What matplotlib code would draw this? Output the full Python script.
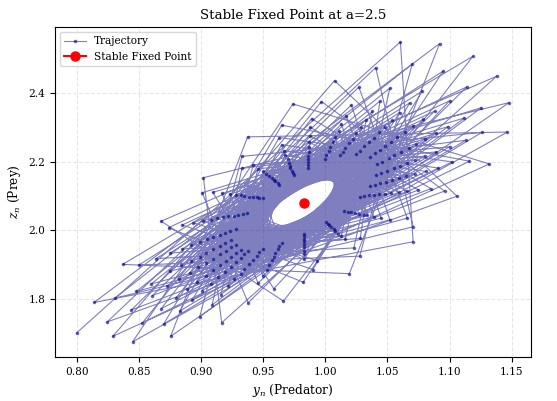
import matplotlib
matplotlib.use("Agg")
import matplotlib.pyplot as plt

plt.rcParams['font.family'] = ['DejaVu Serif']
plt.rcParams['mathtext.fontset'] = 'dejavuserif'

# Trajectory values (y = predator, z = prey)
y_traj = [
    0.800, 1.0605, 1.0707, 0.814, 1.092, 1.0194, 0.837, 1.1188, 0.9664, 0.868, 1.138, 0.9167,
    0.902, 1.148, 0.8756, 0.9376, 1.1465, 0.845, 0.974, 1.132, 0.829, 1.0075, 1.106,
    0.8245, 1.0406, 1.0707, 0.831, 1.070, 1.0277, 0.850, 1.095, 0.9823, 0.874, 1.114, 0.938,
    0.901, 1.1256, 0.899, 0.933, 1.126, 0.870, 0.965, 1.116, 0.853, 0.997, 1.096,
    0.844, 1.027, 1.066, 0.848, 1.052, 1.023, 0.864, 1.078, 0.990, 0.885, 1.100, 0.9586,
    0.9095, 1.112, 0.909, 0.933, 1.113, 0.883, 0.963, 1.102, 0.868, 0.989, 1.085,
    0.861, 1.021, 1.052, 0.860, 1.044, 1.0282, 0.875, 1.068, 0.9933, 0.894, 1.088, 0.946,
    0.917, 1.099, 0.916, 0.942, 1.100, 0.893, 0.965, 1.091, 0.880, 0.988, 1.075,
    0.873, 1.017, 1.045, 0.875, 1.038, 1.016, 0.885, 1.060, 0.983, 0.902, 1.079, 0.950,
    0.923, 1.089, 0.922, 0.946, 1.089, 0.901, 0.967, 1.081, 0.889, 0.988, 1.066,
    0.882, 1.013, 1.039, 0.884, 1.033, 1.013, 0.892, 1.054, 0.983, 0.908, 1.071, 0.953,
    0.928, 1.080, 0.927, 0.950, 1.080, 0.908, 0.968, 1.072, 0.897, 0.987, 1.059,
    0.891, 1.011, 1.034, 0.892, 1.029, 1.010, 0.899, 1.048, 0.983, 0.913, 1.064, 0.955,
    0.932, 1.073, 0.932, 0.952, 1.072, 0.914, 0.970, 1.065, 0.904, 0.987, 1.053,
    0.898, 1.008, 1.031, 0.899, 1.025, 1.008, 0.905, 1.043, 0.983, 0.918, 1.058, 0.957,
    0.935, 1.067, 0.935, 0.955, 1.066, 0.919, 0.971, 1.059, 0.910, 0.987, 1.048,
    0.904, 1.006, 1.027, 0.904, 1.022, 1.007, 0.910, 1.039, 0.983, 0.922, 1.053, 0.959,
    0.939, 1.061, 0.939, 0.957, 1.060, 0.924, 0.972, 1.054, 0.915, 0.986, 1.043,
    0.910, 1.004, 1.024, 0.910, 1.019, 1.005, 0.915, 1.035, 0.983, 0.927, 1.048, 0.960,
    0.942, 1.055, 0.942, 0.959, 1.055, 0.928, 0.972, 1.049, 0.920, 0.986, 1.039,
    0.915, 1.003, 1.021, 0.915, 1.016, 1.003, 0.919, 1.031, 0.983, 0.930, 1.044, 0.962,
    0.945, 1.051, 0.945, 0.960, 1.050, 0.932, 0.973, 1.044, 0.924, 0.986, 1.035,
    0.920, 1.001, 1.018, 0.919, 1.014, 1.002, 0.923, 1.028, 0.983, 0.934, 1.040, 0.963,
    0.947, 1.046, 0.947, 0.962, 1.045, 0.935, 0.974, 1.040, 0.928, 0.986, 1.031,
    0.924, 1.000, 1.015, 0.924, 1.012, 1.001, 0.928, 1.025, 0.983, 0.937, 1.036, 0.965,
    0.950, 1.042, 0.950, 0.963, 1.041, 0.938, 0.975, 1.036, 0.932, 0.986, 1.028,
    0.928,
]
z_traj = [
    1.700, 2.549, 1.966, 1.789, 2.544, 1.873, 1.900, 2.507, 1.793, 2.026, 2.449, 1.730,
    2.153, 2.372, 1.690, 2.272, 2.286, 1.674, 2.368, 2.193, 1.690, 2.436, 2.099,
    1.732, 2.474, 2.0096, 1.802, 2.484, 1.924, 1.898, 2.464, 1.848, 2.007, 2.418, 1.788,
    2.109, 2.357, 1.747, 2.215, 2.285, 1.726, 2.306, 2.201, 1.730, 2.375, 2.114,
    1.767, 2.417, 2.035, 1.821, 2.414, 1.948, 1.917, 2.405, 1.885, 2.015, 2.377, 1.829,
    2.110, 2.327, 1.782, 2.180, 2.262, 1.764, 2.270, 2.199, 1.771, 2.325, 2.121,
    1.809, 2.365, 2.030, 1.843, 2.376, 1.976, 1.933, 2.371, 1.911, 2.021, 2.347, 1.845,
    2.107, 2.302, 1.812, 2.190, 2.243, 1.796, 2.249, 2.181, 1.802, 2.300, 2.117,
    1.836, 2.334, 2.035, 1.880, 2.346, 1.973, 1.945, 2.343, 1.915, 2.026, 2.323, 1.866,
    2.105, 2.282, 1.836, 2.179, 2.228, 1.823, 2.232, 2.171, 1.828, 2.275, 2.113,
    1.857, 2.309, 2.039, 1.897, 2.321, 1.983, 1.956, 2.320, 1.929, 2.030, 2.303, 1.884,
    2.103, 2.266, 1.856, 2.171, 2.216, 1.844, 2.218, 2.163, 1.849, 2.257, 2.110,
    1.875, 2.289, 2.043, 1.911, 2.301, 1.990, 1.965, 2.301, 1.940, 2.034, 2.286, 1.899,
    2.101, 2.252, 1.873, 2.163, 2.205, 1.863, 2.207, 2.157, 1.867, 2.242, 2.108,
    1.891, 2.272, 2.045, 1.923, 2.283, 1.997, 1.973, 2.285, 1.950, 2.037, 2.272, 1.912,
    2.100, 2.240, 1.888, 2.157, 2.196, 1.879, 2.197, 2.151, 1.883, 2.229, 2.106,
    1.905, 2.256, 2.048, 1.934, 2.267, 2.003, 1.980, 2.270, 1.959, 2.040, 2.258, 1.923,
    2.098, 2.228, 1.902, 2.151, 2.188, 1.893, 2.188, 2.146, 1.897, 2.217, 2.104,
    1.917, 2.242, 2.050, 1.944, 2.253, 2.009, 1.987, 2.256, 1.968, 2.042, 2.246, 1.934,
    2.097, 2.218, 1.914, 2.146, 2.180, 1.906, 2.180, 2.141, 1.909, 2.207, 2.102,
    1.929, 2.230, 2.053, 1.953, 2.240, 2.014, 1.993, 2.244, 1.975, 2.045, 2.235, 1.944,
    2.096, 2.209, 1.925, 2.142, 2.173, 1.918, 2.173, 2.137, 1.921, 2.198, 2.101,
    1.939, 2.219, 2.054, 1.962, 2.229, 2.018, 1.998, 2.232, 1.982, 2.047, 2.224, 1.953,
    2.095, 2.200, 1.936, 2.137, 2.167, 1.929, 2.166, 2.133, 1.932, 2.189, 2.099,
    1.950, 2.208, 2.056, 1.970, 2.218, 2.023, 2.004, 2.222, 1.989, 2.049, 2.214, 1.962,
    2.094, 2.192, 1.946, 2.133, 2.161, 1.940, 2.160, 2.129, 1.942, 2.181, 2.098,
    1.958,
]

# Stable fixed point
y_star = [0.983]
z_star = [2.080]

title_text = "Stable Fixed Point at a=2.5"
xlabel_text = "$y_n$ (Predator)"
ylabel_text = "$z_n$ (Prey)"

fig, ax = plt.subplots(figsize=(5.57, 4.01), dpi=100)
fig.subplots_adjust(left=0.0987, right=0.953, top=0.933, bottom=0.110)

ax.plot(y_traj, z_traj, 'o-', color='navy', alpha=0.5, markersize=1.6,
        linewidth=0.8, label='Trajectory')
ax.plot(y_star, z_star, 'o-', color='red', markersize=6.5,
        label='Stable Fixed Point', zorder=5)

ax.set_title(title_text, fontsize=9.6)
ax.set_xlabel(xlabel_text, fontsize=8.7)
ax.set_ylabel(ylabel_text, fontsize=8.7)
ax.tick_params(labelsize=7.6)
ax.grid(True, linestyle='--', alpha=0.3)
ax.legend(loc='upper left', fontsize=7.6)

fig.savefig("out.png", dpi=100)
